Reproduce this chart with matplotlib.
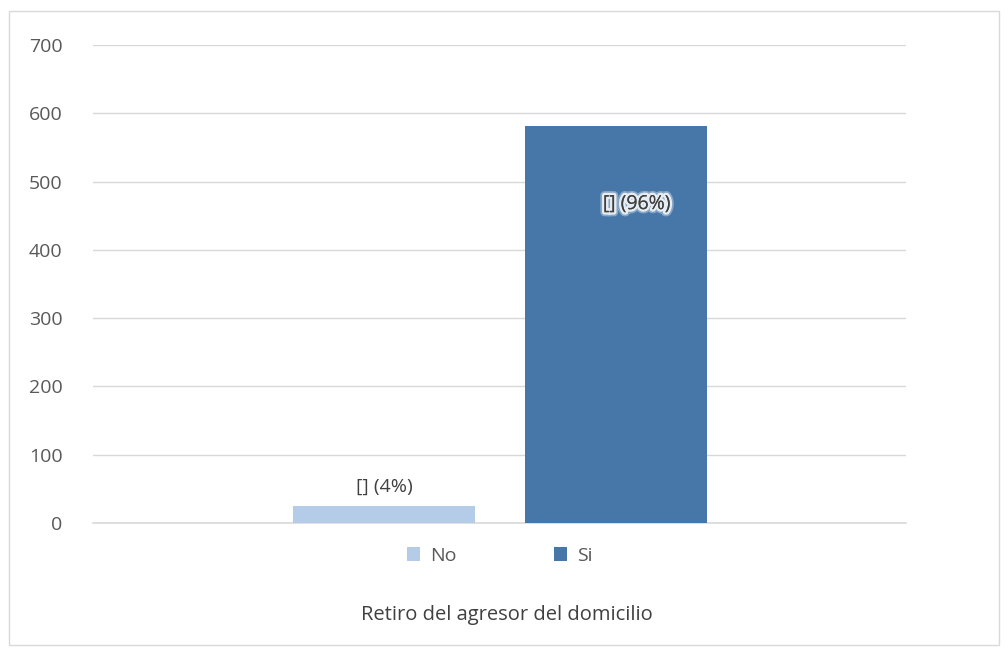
import matplotlib.pyplot as plt
import matplotlib.patheffects as pe
from matplotlib.patches import Rectangle

# data
series = ['No', 'Si']
values = [25, 581]
labels = ['[] (4%)', '[] (96%)']
colors = ['#b4cce8', '#4677a8']
category = 'Retiro del agresor del domicilio'
yticks = [0, 100, 200, 300, 400, 500, 600, 700]

plt.rcParams['font.family'] = ['Open Sans', 'DejaVu Sans']

fig = plt.figure(figsize=(10.08, 6.52), dpi=100)
# plot area in pixels: x 93..906, y 45..523 (0..700)
ax = fig.add_axes([93 / 1008, 1 - 523 / 652, 813 / 1008, 478 / 652])

offsets = [-0.142, 0.143]
width = 0.224
for i, (s, v, c) in enumerate(zip(series, values, colors)):
    ax.bar(0.5 + offsets[i], v, width=width, color=c, label=s, zorder=3)

# data labels
ax.text(0.5 + offsets[0], values[0] + 15, labels[0], ha='center', va='bottom',
        fontsize=14, color='#404040', zorder=4)
t = ax.text(0.5 + offsets[1] + 0.026, values[1] - 114, labels[1], ha='center', va='center',
            fontsize=14, color='#404040', zorder=4)
t.set_path_effects([pe.withStroke(linewidth=6, foreground='white', alpha=0.35),
                    pe.withStroke(linewidth=3.5, foreground='white', alpha=0.8),
                    pe.Normal()])

ax.set_xlim(0, 1)
ax.set_ylim(0, 700)
ax.set_yticks(yticks)
ax.set_xticks([])
ax.tick_params(axis='y', length=0, labelsize=14, labelcolor='#595959', pad=22)
ax.grid(axis='y', color='#d9d9d9', linewidth=1, zorder=0)
for sp in ['top', 'right', 'left']:
    ax.spines[sp].set_visible(False)
ax.spines['bottom'].set_color('#d9d9d9')
ax.spines['bottom'].set_linewidth(1.2)

leg = ax.legend(loc='center', bbox_to_anchor=(0.5, -0.069), ncol=2, frameon=False,
                fontsize=14, labelcolor='#595959', handlelength=0.7, handleheight=0.7,
                columnspacing=5, handletextpad=0.5)

fig.text(507 / 1008, 1 - 615 / 652, category, ha='center', va='center',
         fontsize=14.5, color='#404040')

# chart border
fig.patches.append(Rectangle((9 / 1008, 7 / 652), 990 / 1008, 634 / 652,
                             transform=fig.transFigure, fill=False,
                             edgecolor='#d9d9d9', linewidth=1))

fig.savefig('out.png', dpi=100)
